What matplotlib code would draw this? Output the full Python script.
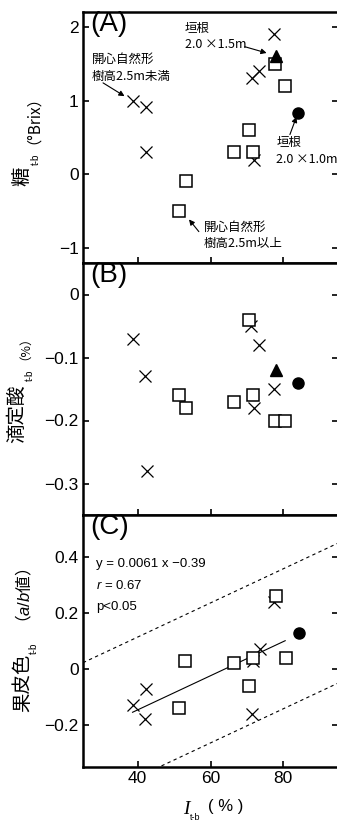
import matplotlib
matplotlib.use('Agg')
import matplotlib.pyplot as plt
import numpy as np

plt.rcParams['font.family'] = ['Liberation Sans', 'Noto Sans CJK JP']
plt.rcParams['mathtext.fontset'] = 'custom'
plt.rcParams['mathtext.rm'] = 'Liberation Sans'
plt.rcParams['mathtext.it'] = 'Liberation Sans:italic'
plt.rcParams['mathtext.bf'] = 'Liberation Sans:bold'

# ---------------- data ----------------
# Panel A: sugar (Brix)
a_cross_x = [38.8, 42.2, 42.2, 77.3, 73.4, 71.5, 72.0]
a_cross_y = [1.0, 0.91, 0.30, 1.9, 1.4, 1.3, 0.2]
a_sq_x = [77.8, 80.5, 70.6, 66.5, 71.8, 53.2, 51.4]
a_sq_y = [1.5, 1.2, 0.6, 0.3, 0.3, -0.09, -0.5]
a_tri_x, a_tri_y = [78.0], [1.6]
a_circ_x, a_circ_y = [84.1], [0.83]

# Panel B: titratable acid (%)
b_cross_x = [38.6, 42.0, 42.5, 71.0, 73.4, 77.3, 72.0]
b_cross_y = [-0.07, -0.13, -0.28, -0.05, -0.08, -0.15, -0.18]
b_sq_x = [70.6, 51.4, 53.2, 66.5, 71.8, 77.8, 80.5]
b_sq_y = [-0.04, -0.16, -0.18, -0.17, -0.16, -0.20, -0.20]
b_tri_x, b_tri_y = [78.0], [-0.12]
b_circ_x, b_circ_y = [84.1], [-0.14]

# Panel C: peel colour (a/b)
c_cross_x = [38.6, 42.2, 42.0, 71.4, 71.8, 73.5, 77.5]
c_cross_y = [-0.13, -0.07, -0.18, -0.16, 0.03, 0.07, 0.24]
c_sq_x = [77.9, 80.6, 71.7, 66.4, 70.7, 53.1, 51.3]
c_sq_y = [0.26, 0.04, 0.04, 0.02, -0.06, 0.03, -0.14]
c_circ_x, c_circ_y = [84.2], [0.13]

# regression y = 0.0061 x - 0.39
reg_slope, reg_icpt = 0.0061, -0.39
reg_xrange = [38.6, 80.5]
band_upper_off, band_lower_off = 0.26, -0.24

x_ticks = [40, 60, 80]
a_yticks = [-1, 0, 1, 2]
b_yticks = [0, -0.1, -0.2, -0.3]
c_yticks = [-0.2, 0, 0.2, 0.4]

# ---------------- figure ----------------
W, H = 337, 825
fig = plt.figure(figsize=(W / 100, H / 100), dpi=100)

def fx(px):
    return px / W

def fy(py):
    return 1 - py / H

L, R = 83, 338
panels = [(12, 263), (263, 515), (515, 767)]
axes = []
for top, bot in panels:
    ax = fig.add_axes([fx(L), fy(bot), (R - L) / W, (bot - top) / H])
    axes.append(ax)

cjk = 'Noto Sans CJK JP'

def style(ax, ylim, yticks, show_xlabels):
    ax.set_xlim(25, 95)
    ax.set_ylim(*ylim)
    ax.set_xticks(x_ticks)
    ax.set_yticks(yticks)
    ax.tick_params(direction='in', length=4, width=1.2, labelsize=12.5,
                   left=True, right=True, bottom=True, top=False, pad=3)
    if not show_xlabels:
        ax.tick_params(labelbottom=False)
    for s in ax.spines.values():
        s.set_linewidth(1.8)

def fmt(v):
    if v == 0:
        return '0'
    s = ('%g' % v)
    return s.replace('-', '\u2212')

def scatter_set(ax, cx, cy, sx, sy, tx=None, ty=None, ox=None, oy=None):
    ax.plot(cx, cy, 'x', color='black', ms=9, mew=0.9, zorder=3)
    ax.plot(sx, sy, 's', mfc='white', mec='black', ms=8, mew=1.1, zorder=4)
    if tx is not None:
        ax.plot(tx, ty, '^', color='black', ms=8, zorder=5)
    if ox is not None:
        ax.plot(ox, oy, 'o', color='black', ms=8, zorder=5)

axA, axB, axC = axes
scatter_set(axA, a_cross_x, a_cross_y, a_sq_x, a_sq_y, a_tri_x, a_tri_y, a_circ_x, a_circ_y)
scatter_set(axB, b_cross_x, b_cross_y, b_sq_x, b_sq_y, b_tri_x, b_tri_y, b_circ_x, b_circ_y)
scatter_set(axC, c_cross_x, c_cross_y, c_sq_x, c_sq_y, None, None, c_circ_x, c_circ_y)

style(axA, (-1.2, 2.2), a_yticks, False)
style(axB, (-0.35, 0.05), b_yticks, False)
style(axC, (-0.35, 0.55), c_yticks, True)
for ax, yt in ((axA, a_yticks), (axB, b_yticks), (axC, c_yticks)):
    ax.set_yticklabels([fmt(v) for v in yt])

# regression + bands
xr = np.array(reg_xrange)
axC.plot(xr, reg_slope * xr + reg_icpt, '-', color='black', lw=0.8, zorder=2)
xb = np.array([25, 95])
axC.plot(xb, reg_slope * xb + reg_icpt + band_upper_off, color='black', lw=0.8,
         ls=(0, (3, 3)), zorder=1)
axC.plot(xb, reg_slope * xb + reg_icpt + band_lower_off, color='black', lw=0.8,
         ls=(0, (3, 3)), zorder=1)

axC.text(28.6, 0.375, 'y = 0.0061 x \u22120.39', fontsize=9.5, va='center', ha='left')
axC.text(28.6, 0.298, '$r$ = 0.67', fontsize=9.5, va='center', ha='left')
axC.text(28.6, 0.22, 'p<0.05', fontsize=9.5, va='center', ha='left')

# panel labels
for ax, lab in ((axA, '(A)'), (axB, '(B)'), (axC, '(C)')):
    ax.text(0.03, 1.005, lab, transform=ax.transAxes, fontsize=20, va='top', ha='left')

# annotations in panel A
akw = dict(arrowstyle='-|>', color='black', lw=0.8, mutation_scale=8, shrinkA=0, shrinkB=0)
tkw = dict(fontsize=9, family=[cjk], va='top', ha='left', linespacing=1.35)
axA.text(53.0, 2.07, '垣根\n2.0 ×1.5m', **tkw)
axA.annotate('', xy=(75.4, 1.645), xytext=(69.4, 1.73), arrowprops=akw)
axA.text(27.5, 1.64, '開心自然形\n樹高2.5m未満', **tkw)
axA.annotate('', xy=(36.4, 1.06), xytext=(30.5, 1.24), arrowprops=akw)
axA.text(78.1, 0.52, '垣根\n2.0 ×1.0m', **tkw)
axA.annotate('', xy=(83.6, 0.78), xytext=(81.8, 0.54), arrowprops=akw)
axA.text(58.1, -0.63, '開心自然形\n樹高2.5m以上', **tkw)
axA.annotate('', xy=(54.1, -0.61), xytext=(56.8, -0.775), arrowprops=akw)

# y labels (manual pieces)
def ft(px, py, s, **kw):
    fig.text(fx(px), fy(py), s, ha='center', va='center', **kw)

ft(21.5, 176, '糖', fontsize=14, family=[cjk], rotation=90)
ft(36, 159, 't-b', fontsize=7, rotation=90)
ft(25, 112, '（°Brix）', fontsize=11, family=[cjk], rotation=90)

ft(17, 414, '滴定酸', fontsize=14, family=[cjk], rotation=90)
ft(30, 375, 't-b', fontsize=7, rotation=90)
ft(19, 342, '（%）', fontsize=9, family=[cjk], rotation=90)

ft(22.5, 683, '果皮色', fontsize=14, family=[cjk], rotation=90)
ft(34, 648, 't-b', fontsize=7, rotation=90)
ft(24, 600, '（$\\mathit{a/b}$値）', fontsize=12, family=[cjk], rotation=90)

# x label
ft(186, 809, 'I', fontsize=14, family=['Liberation Serif'], style='italic')
ft(195, 818, 't-b', fontsize=6.5)
ft(226, 807, '( % )', fontsize=12)

fig.savefig('out.png', dpi=100)
